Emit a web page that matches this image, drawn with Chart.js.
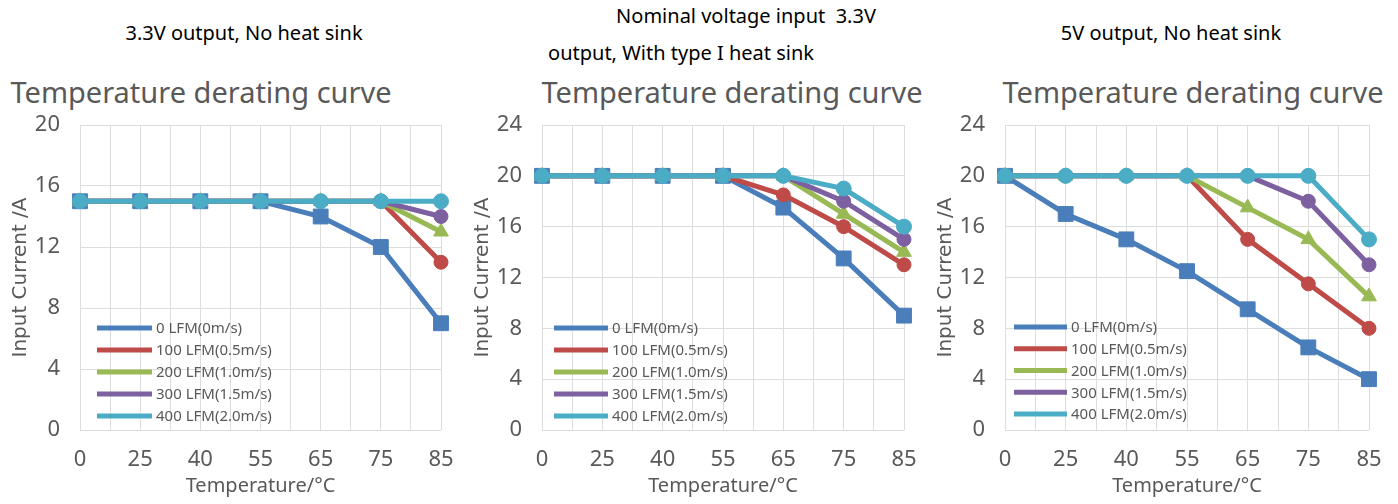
<!DOCTYPE html>
<html>
<head>
<meta charset="utf-8">
<script src="https://cdn.jsdelivr.net/npm/chart.js@4.4.1/dist/chart.umd.min.js"></script>
<style>
  html, body { margin: 0; padding: 0; background: #fff; }
  #root { position: relative; width: 1398px; height: 504px; overflow: hidden; background: #fff; }
  .cap { position: absolute; width: 600px; text-align: center; font-family: "Noto Sans", sans-serif; font-size: 20px; line-height: 20px; color: #000; white-space: pre; }
  .ttl { position: absolute; width: 600px; text-align: center; font-family: "Noto Sans", sans-serif; font-size: 29px; line-height: 29px; color: #595959; white-space: pre; }
  canvas { position: absolute; top: 110px; }
</style>
</head>
<body>
<div id="root">
  <div class="cap" style="left:-56px; top:23px;">3.3V output, No heat sink</div>
  <div class="cap" style="left:446px; top:6px;">Nominal voltage input  3.3V</div>
  <div class="cap" style="left:381px; top:43px;">output, With type I heat sink</div>
  <div class="cap" style="left:871px; top:23px;">5V output, No heat sink</div>

  <div class="ttl" style="left:-99px; top:77px;">Temperature derating curve</div>
  <div class="ttl" style="left:432px; top:77px;">Temperature derating curve</div>
  <div class="ttl" style="left:893px; top:77px;">Temperature derating curve</div>

  <canvas id="c1" width="466" height="394" style="left:0px;"></canvas>
  <canvas id="c2" width="467" height="394" style="left:462px;"></canvas>
  <canvas id="c3" width="469" height="394" style="left:925px;"></canvas>
</div>
<script>
// ---- data ----
const temperatures = ['0', '25', '40', '55', '65', '75', '85'];
const seriesNames = ['0 LFM(0m/s)', '100 LFM(0.5m/s)', '200 LFM(1.0m/s)', '300 LFM(1.5m/s)', '400 LFM(2.0m/s)'];

// 3.3V output, no heat sink
const c1_lfm0   = [15, 15, 15, 15, 14, 12, 7];
const c1_lfm100 = [15, 15, 15, 15, 15, 15, 11];
const c1_lfm200 = [15, 15, 15, 15, 15, 15, 13];
const c1_lfm300 = [15, 15, 15, 15, 15, 15, 14];
const c1_lfm400 = [15, 15, 15, 15, 15, 15, 15];

// 3.3V output, type I heat sink
const c2_lfm0   = [20, 20, 20, 20, 17.5, 13.5, 9];
const c2_lfm100 = [20, 20, 20, 20, 18.5, 16, 13];
const c2_lfm200 = [20, 20, 20, 20, 20, 17, 14];
const c2_lfm300 = [20, 20, 20, 20, 20, 18, 15];
const c2_lfm400 = [20, 20, 20, 20, 20, 19, 16];

// 5V output, no heat sink
const c3_lfm0   = [20, 17, 15, 12.5, 9.5, 6.5, 4];
const c3_lfm100 = [20, 20, 20, 20, 15, 11.5, 8];
const c3_lfm200 = [20, 20, 20, 20, 17.5, 15, 10.5];
const c3_lfm300 = [20, 20, 20, 20, 20, 18, 13];
const c3_lfm400 = [20, 20, 20, 20, 20, 20, 15];

const yMax1 = 20, yMax2 = 24, yMax3 = 24;
const yStep = 4;

// ---- styles ----
const colors = ['#4A7EBB', '#BE4B48', '#98B954', '#7D60A0', '#4BACC6'];
const pStyles = ['rect', 'circle', 'triangle', 'circle', 'circle'];
const pRadius = [10.5, 7, 8.5, 7, 7.5];
const legendRadius = [5.5, 4, 5, 4, 4];
const tickColor = '#595959';
const gridColor = '#DDDDDD';

function toPoints(arr) { return arr.map((v, i) => ({ x: i, y: v })); }

const legendPlugin = {
  id: 'inlineLegend',
  afterDatasetsDraw(chart, args, opts) {
    const ctx = chart.ctx;
    const a = chart.chartArea;
    const x0 = a.left + opts.dx;
    const lineLen = opts.len;
    ctx.save();
    const byIndex = chart.data.datasets.slice().sort((p, q) => p.legendIndex - q.legendIndex);
    byIndex.forEach((ds, k) => {
      const y = a.bottom - opts.dy + k * opts.gap;
      ctx.strokeStyle = ds.borderColor;
      ctx.lineWidth = 5;
      ctx.lineCap = 'butt';
      ctx.beginPath();
      ctx.moveTo(x0, y);
      ctx.lineTo(x0 + lineLen, y);
      ctx.stroke();
      ctx.fillStyle = ds.borderColor;
      ctx.strokeStyle = ds.borderColor;
      ctx.lineWidth = 1;
      Chart.helpers.drawPoint(ctx, { pointStyle: ds.pointStyle, borderWidth: 1, rotation: 0 }, x0 + lineLen / 2, y, legendRadius[ds.legendIndex]);
      ctx.fillStyle = tickColor;
      ctx.font = '15px "Noto Sans", sans-serif';
      ctx.textBaseline = 'middle';
      ctx.textAlign = 'left';
      ctx.fillText(ds.label, x0 + lineLen + 4, y + 1);
    });
    ctx.restore();
  }
};

function makeChart(id, seriesArr, yMax, legendOpts) {
  const datasets = seriesArr.map((arr, i) => ({
    label: seriesNames[i],
    legendIndex: i,
    data: toPoints(arr),
    borderColor: colors[i],
    backgroundColor: colors[i],
    pointBackgroundColor: colors[i],
    pointBorderColor: colors[i],
    pointBorderWidth: 1,
    pointStyle: pStyles[i],
    pointRadius: pRadius[i],
    pointHoverRadius: pRadius[i],
    borderWidth: 5,
    tension: 0,
    clip: false,
    order: 4 - i
  }));
  return new Chart(document.getElementById(id), {
    type: 'line',
    data: { datasets },
    plugins: [legendPlugin],
    options: {
      responsive: false,
      maintainAspectRatio: false,
      devicePixelRatio: 1,
      animation: false,
      events: [],
      layout: { padding: { top: 15, right: 25, bottom: 0, left: 0 }, autoPadding: false },
      plugins: {
        legend: { display: false },
        tooltip: { enabled: false },
        title: { display: false },
        inlineLegend: legendOpts
      },
      scales: {
        x: {
          type: 'linear',
          min: 0,
          max: temperatures.length - 1,
          afterFit(s) { s.height = 74; s.paddingLeft = 0; s.paddingRight = 0; },
          afterBuildTicks(s) {
            const t = [];
            for (let v = 0; v <= temperatures.length - 1 + 1e-9; v += 0.5) t.push({ value: v });
            s.ticks = t;
          },
          ticks: {
            autoSkip: false,
            maxRotation: 0,
            padding: 17,
            color: tickColor,
            font: { family: '"Noto Sans", sans-serif', size: 22 },
            callback(v) { return Number.isInteger(v) ? temperatures[v] : ''; }
          },
          grid: { color: gridColor, lineWidth: 1, drawTicks: false },
          border: { display: false },
          title: {
            display: true,
            text: 'Temperature/°C',
            color: tickColor,
            font: { family: '"Noto Sans", sans-serif', size: 20 },
            padding: { top: 0, bottom: 6 }
          }
        },
        y: {
          min: 0,
          max: yMax,
          afterFit(s) { s.width = 80; s.paddingTop = 0; s.paddingBottom = 0; },
          ticks: {
            stepSize: yStep,
            padding: 20,
            color: tickColor,
            font: { family: '"Noto Sans", sans-serif', size: 22 }
          },
          grid: { color: gridColor, lineWidth: 1, drawTicks: false },
          border: { display: false },
          title: {
            display: true,
            text: 'Input Current /A',
            color: tickColor,
            font: { family: '"DejaVu Sans", sans-serif', size: 20 },
            padding: { top: 9, bottom: 0 }
          }
        }
      }
    }
  });
}

makeChart('c1', [c1_lfm0, c1_lfm100, c1_lfm200, c1_lfm300, c1_lfm400], yMax1, { dx: 17, len: 55, dy: 102, gap: 22 });
makeChart('c2', [c2_lfm0, c2_lfm100, c2_lfm200, c2_lfm300, c2_lfm400], yMax2, { dx: 12, len: 54, dy: 102, gap: 22 });
makeChart('c3', [c3_lfm0, c3_lfm100, c3_lfm200, c3_lfm300, c3_lfm400], yMax3, { dx: 9, len: 53, dy: 103, gap: 21.75 });
</script>
</body>
</html>
